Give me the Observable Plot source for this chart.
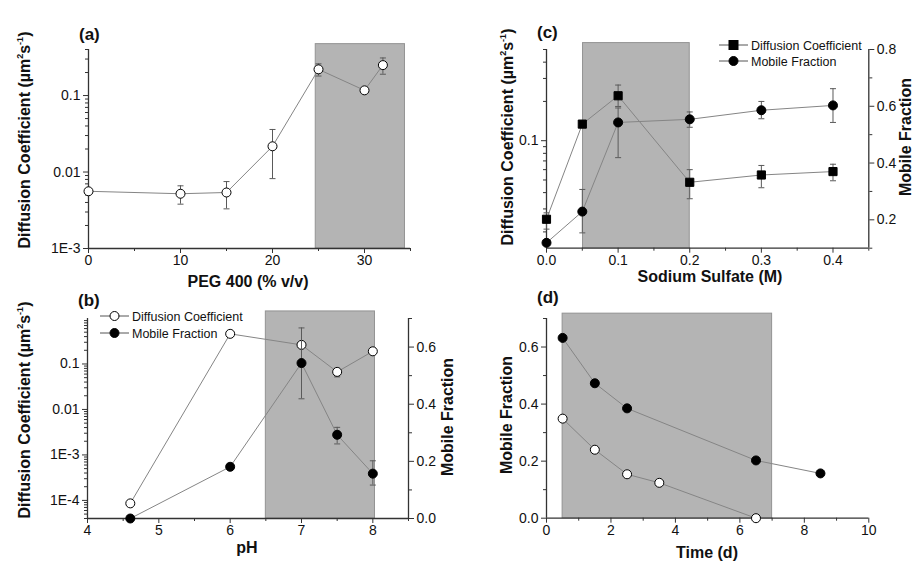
<!DOCTYPE html>
<html><head><meta charset="utf-8">
<script src="https://cdn.jsdelivr.net/npm/d3@7"></script>
<script src="https://cdn.jsdelivr.net/npm/@observablehq/plot@0.6"></script>
<style>
body{margin:0;background:#fff;}
#root{position:relative;width:924px;height:575px;overflow:hidden;font-family:"Liberation Sans",Arial,sans-serif;color:#111;}
.p{position:absolute;}
.lab{position:absolute;font-weight:bold;font-size:16px;white-space:nowrap;transform:translate(-50%,-50%);}
.rot{transform:translate(-50%,-50%) rotate(-90deg);}
.title{position:absolute;font-weight:bold;font-size:17px;transform:translate(0,-50%);}
.leg{position:absolute;font-size:12.5px;display:flex;align-items:center;white-space:nowrap;transform:translate(0,-50%);}
.leg svg{margin-right:3px;}
sup{font-size:9px;vertical-align:7px;line-height:0;}
</style></head><body><div id="root"></div>
<script>
// ---------- data ----------
// (a) PEG 400
const aPEG = [0, 10, 15, 20, 25, 30, 32];
const aD   = [0.0056, 0.0052, 0.0054, 0.0217, 0.22, 0.117, 0.25];
const aDlo = [null, 0.0038, 0.0033, 0.0082, 0.18, null, 0.19];
const aDhi = [null, 0.0066, 0.0075, 0.036, 0.26, null, 0.31];
const aX = [0, 35], aY = [0.001, 0.4];
const aXticks = [0, 10, 20, 30], aXminor = [5, 15, 25, 35];
const aYticks = [0.001, 0.01, 0.1];
const aShadeX = [24.7, 34.4], aShadeTop = 0.47;

// (b) pH
const bPH   = [4.6, 6, 7, 7.5, 8];
const bD    = [0.000086, 0.46, 0.263, 0.067, 0.19];
const bDlo  = [null, null, null, 0.052, null];
const bDhi  = [null, null, null, 0.075, null];
const bMF   = [0.0, 0.181, 0.544, 0.293, 0.157];
const bMFlo = [null, null, 0.419, 0.261, 0.117];
const bMFhi = [null, null, 0.667, 0.319, 0.202];
const bX = [4, 8.5], bY = [0.00004, 1], bY2 = [0, 0.7];
const bXticks = [4, 5, 6, 7, 8], bXminor = [4.5, 5.5, 6.5, 7.5, 8.5];
const bYticks = [0.0001, 0.001, 0.01, 0.1];
const bY2ticks = [0, 0.2, 0.4, 0.6], bY2minor = [0.1, 0.3, 0.5, 0.7];
const bShadeX = [6.5, 8.03], bShadeTop = 1.43;

// (c) Sodium sulfate
const cNa   = [0, 0.05, 0.1, 0.2, 0.3, 0.4];
const cD    = [0.025, 0.134, 0.221, 0.048, 0.0546, 0.058];
const cDlo  = [0.021, null, 0.183, 0.0359, 0.0436, 0.0493];
const cDhi  = [0.028, null, 0.267, 0.06, 0.0646, 0.066];
const cMF   = [0.119, 0.229, 0.543, 0.554, 0.586, 0.603];
const cMFlo = [null, 0.154, 0.419, 0.526, 0.556, 0.543];
const cMFhi = [null, 0.307, 0.594, 0.58, 0.617, 0.662];
const cX = [0, 0.45], cY = [0.015, 0.5], cY2 = [0.1, 0.8];
const cXticks = [0, 0.1, 0.2, 0.3, 0.4], cXminor = [0.05, 0.15, 0.25, 0.35, 0.45];
const cYticks = [0.1];
const cY2ticks = [0.2, 0.4, 0.6, 0.8], cY2minor = [0.1, 0.3, 0.5, 0.7];
const cShadeX = [0.051, 0.2], cShadeTop = 0.56;

// (d) Time
const dT1 = [0.5, 1.5, 2.5, 6.5, 8.5];
const dF1 = [0.632, 0.473, 0.385, 0.2025, 0.157];
const dT2 = [0.5, 1.5, 2.5, 3.5, 6.5];
const dF2 = [0.349, 0.24, 0.154, 0.124, 0.0];
const dX = [0, 10], dY = [0, 0.7];
const dXticks = [0, 2, 4, 6, 8, 10], dXminor = [1, 3, 5, 7, 9];
const dYticks = [0, 0.2, 0.4, 0.6], dYminor = [0.1, 0.3, 0.5, 0.7];
const dShadeX = [0.5, 7.0], dShadeTop = 0.717;

// ---------- styling ----------
const FONT = "Liberation Sans, Arial, sans-serif";
const LINE = "#858585", ERR = "#5a5a5a", AXIS = "#333";
const SHADE = "#b4b4b4", SHADE_EDGE = "#939393";
const R = 4.5;
const capSym = {draw(ctx, size){ const r = Math.sqrt(size / Math.PI); ctx.moveTo(-r, 0); ctx.lineTo(r, 0); }};

function rows(xs, ys, lo, hi){ return xs.map((x, i) => ({x, y: ys[i], lo: lo ? lo[i] : null, hi: hi ? hi[i] : null})); }
function logMinor(dom){
  const out = [];
  for (let e = Math.floor(Math.log10(dom[0])); e <= Math.ceil(Math.log10(dom[1])); e++)
    for (let m = 2; m < 10; m++){ const v = m * Math.pow(10, e); if (v >= dom[0] && v <= dom[1] * 1.0001) out.push(v); }
  return out;
}
function errMarks(data){
  const e = data.filter(d => d.lo != null);
  return [
    Plot.ruleX(e, {x: "x", y1: "lo", y2: "hi", stroke: ERR, strokeWidth: 1}),
    Plot.dot(e, {x: "x", y: "lo", symbol: capSym, r: 3, stroke: ERR, strokeWidth: 1}),
    Plot.dot(e, {x: "x", y: "hi", symbol: capSym, r: 3, stroke: ERR, strokeWidth: 1})
  ];
}
function series(data, sym, fill){
  return [
    Plot.line(data, {x: "x", y: "y", stroke: LINE, strokeWidth: 1}),
    ...errMarks(data),
    Plot.dot(data, {x: "x", y: "y", symbol: sym, r: sym === "square" ? 4.6 : R, fill, stroke: "#000", strokeWidth: 1})
  ];
}
function xAxis(major, minor, fmt){
  return [
    Plot.axisX(major, {tickSize: 5, tickPadding: 2, tickFormat: fmt, label: null, stroke: AXIS, fontSize: 14}),
    Plot.axisX(minor, {tickSize: 3, tickFormat: () => "", label: null, stroke: AXIS})
  ];
}
function yAxis(major, minor, fmt, anchor){
  return [
    Plot.axisY(major, {anchor, tickSize: 5, tickPadding: 3, tickFormat: fmt, label: null, stroke: AXIS, fontSize: 14}),
    Plot.axisY(minor, {anchor, tickSize: 3, tickFormat: () => "", label: null, stroke: AXIS})
  ];
}
function shade(xr, y0, top){
  return Plot.rect([{x1: xr[0], x2: xr[1], y1: y0, y2: top}], {x1: "x1", x2: "x2", y1: "y1", y2: "y2", fill: SHADE, stroke: SHADE_EDGE, strokeWidth: 1});
}
function mk(g, xd, yd, ytype, marks, secondary){
  return Plot.plot({
    width: g.w, height: g.h, marginLeft: g.ml, marginRight: g.mr, marginTop: g.mt, marginBottom: g.mb,
    x: secondary ? {domain: xd, axis: null} : {domain: xd}, y: {type: ytype, domain: yd},
    style: {background: "transparent", overflow: "visible", fontFamily: FONT, fontSize: "14px", color: "#111"},
    marks
  });
}
const root = document.getElementById("root");
function place(svg, left, top){ const d = document.createElement("div"); d.className = "p"; d.style.left = left + "px"; d.style.top = top + "px"; d.appendChild(svg); root.appendChild(d); }
function html(cls, left, top, inner){ const d = document.createElement("div"); d.className = cls; d.style.left = left + "px"; d.style.top = top + "px"; d.innerHTML = inner; root.appendChild(d); }
const sci = d => d >= 0.01 ? String(d) : "1E" + Math.round(Math.log10(d));
const f1 = d3.format(".1f");

// ---------- (a) ----------
const gA = {w: 460, h: 290, ml: 88, mr: 50, mt: 49, mb: 42};
place(mk(gA, aX, aY, "log", [
  shade(aShadeX, aY[0], aShadeTop),
  ...xAxis(aXticks, aXminor, d => String(d)),
  ...yAxis(aYticks, logMinor(aY), sci, "left"),
  Plot.ruleX([aX[0]], {stroke: AXIS, strokeWidth: 1.3}),
  Plot.ruleY([aY[0]], {stroke: AXIS, strokeWidth: 1.3}),
  ...series(rows(aPEG, aD, aDlo, aDhi), "circle", "#fff")
]), 0, 0);

// ---------- (b) ----------
const gB = {w: 460, h: 285, ml: 87, mr: 52, mt: 28, mb: 57};
place(mk(gB, bX, bY, "log", [
  shade(bShadeX, bY[0], bShadeTop),
  ...xAxis(bXticks, bXminor, d => String(d)),
  ...yAxis(bYticks, logMinor(bY), sci, "left"),
  Plot.ruleX([bX[0]], {stroke: AXIS, strokeWidth: 1.3}),
  Plot.ruleY([bY[0]], {stroke: AXIS, strokeWidth: 1.3}),
  ...series(rows(bPH, bD, bDlo, bDhi), "circle", "#fff")
]), 0, 290);
place(mk(gB, bX, bY2, "linear", [
  ...yAxis(bY2ticks, bY2minor, f1, "right"),
  Plot.ruleX([bX[1]], {stroke: AXIS, strokeWidth: 1.3}),
  ...series(rows(bPH, bMF, bMFlo, bMFhi), "circle", "#000")
], true), 0, 290);

// ---------- (c) ----------
const gC = {w: 464, h: 290, ml: 86, mr: 55.7, mt: 49, mb: 42.3};
place(mk(gC, cX, cY, "log", [
  shade(cShadeX, cY[0], cShadeTop),
  ...xAxis(cXticks, cXminor, f1),
  ...yAxis(cYticks, logMinor(cY), d => String(d), "left"),
  Plot.ruleX([cX[0]], {stroke: AXIS, strokeWidth: 1.3}),
  Plot.ruleY([cY[0]], {stroke: AXIS, strokeWidth: 1.3}),
  ...series(rows(cNa, cD, cDlo, cDhi), "square", "#000")
]), 460, 0);
place(mk(gC, cX, cY2, "linear", [
  ...yAxis(cY2ticks, cY2minor, f1, "right"),
  Plot.ruleX([cX[1]], {stroke: AXIS, strokeWidth: 1.3}),
  ...series(rows(cNa, cMF, cMFlo, cMFhi), "circle", "#000")
], true), 460, 0);

// ---------- (d) ----------
const gD = {w: 464, h: 285, ml: 86, mr: 55.7, mt: 28, mb: 57.3};
place(mk(gD, dX, dY, "linear", [
  shade(dShadeX, dY[0], dShadeTop),
  ...xAxis(dXticks, dXminor, d => String(d)),
  ...yAxis(dYticks, dYminor, f1, "left"),
  Plot.ruleX([dX[0]], {stroke: AXIS, strokeWidth: 1.3}),
  Plot.ruleY([dY[0]], {stroke: AXIS, strokeWidth: 1.3}),
  ...series(rows(dT1, dF1), "circle", "#000"),
  ...series(rows(dT2, dF2), "circle", "#fff")
]), 460, 290);

// ---------- text ----------
const DC = 'Diffusion Coefficient (µm<sup>2</sup>s<sup>-1</sup>)';
html("title", 79, 35, "(a)");
html("title", 78, 301, "(b)");
html("title", 537, 33, "(c)");
html("title", 537, 298, "(d)");
html("lab rot", 25, 140, DC);
html("lab rot", 25, 410, DC);
html("lab rot", 508, 137, DC);
html("lab", 248, 282, "PEG 400 (% v/v)");
html("lab", 247, 548, "pH");
html("lab", 710, 277, "Sodium Sulfate (M)");
html("lab", 707, 553, "Time (d)");
html("lab rot", 448, 417, "Mobile Fraction");
html("lab rot", 906, 137, "Mobile Fraction");
html("lab rot", 507, 415, "Mobile Fraction");

// legends
function legSym(kind, fill){
  const s = kind === "square"
    ? `<rect x="10" y="3" width="9" height="9" fill="${fill}" stroke="#000"/>`
    : `<circle cx="14.5" cy="7.5" r="${R}" fill="${fill}" stroke="#000"/>`;
  return `<svg width="29" height="15"><line x1="0" x2="29" y1="7.5" y2="7.5" stroke="#555"/>${s}</svg>`;
}
html("leg", 100, 316, legSym("circle", "#fff") + "Diffusion Coefficient");
html("leg", 100, 333, legSym("circle", "#000") + "Mobile Fraction");
html("leg", 719, 45, legSym("square", "#000") + "Diffusion Coefficient");
html("leg", 719, 61, legSym("circle", "#000") + "Mobile Fraction");
</script></body></html>
